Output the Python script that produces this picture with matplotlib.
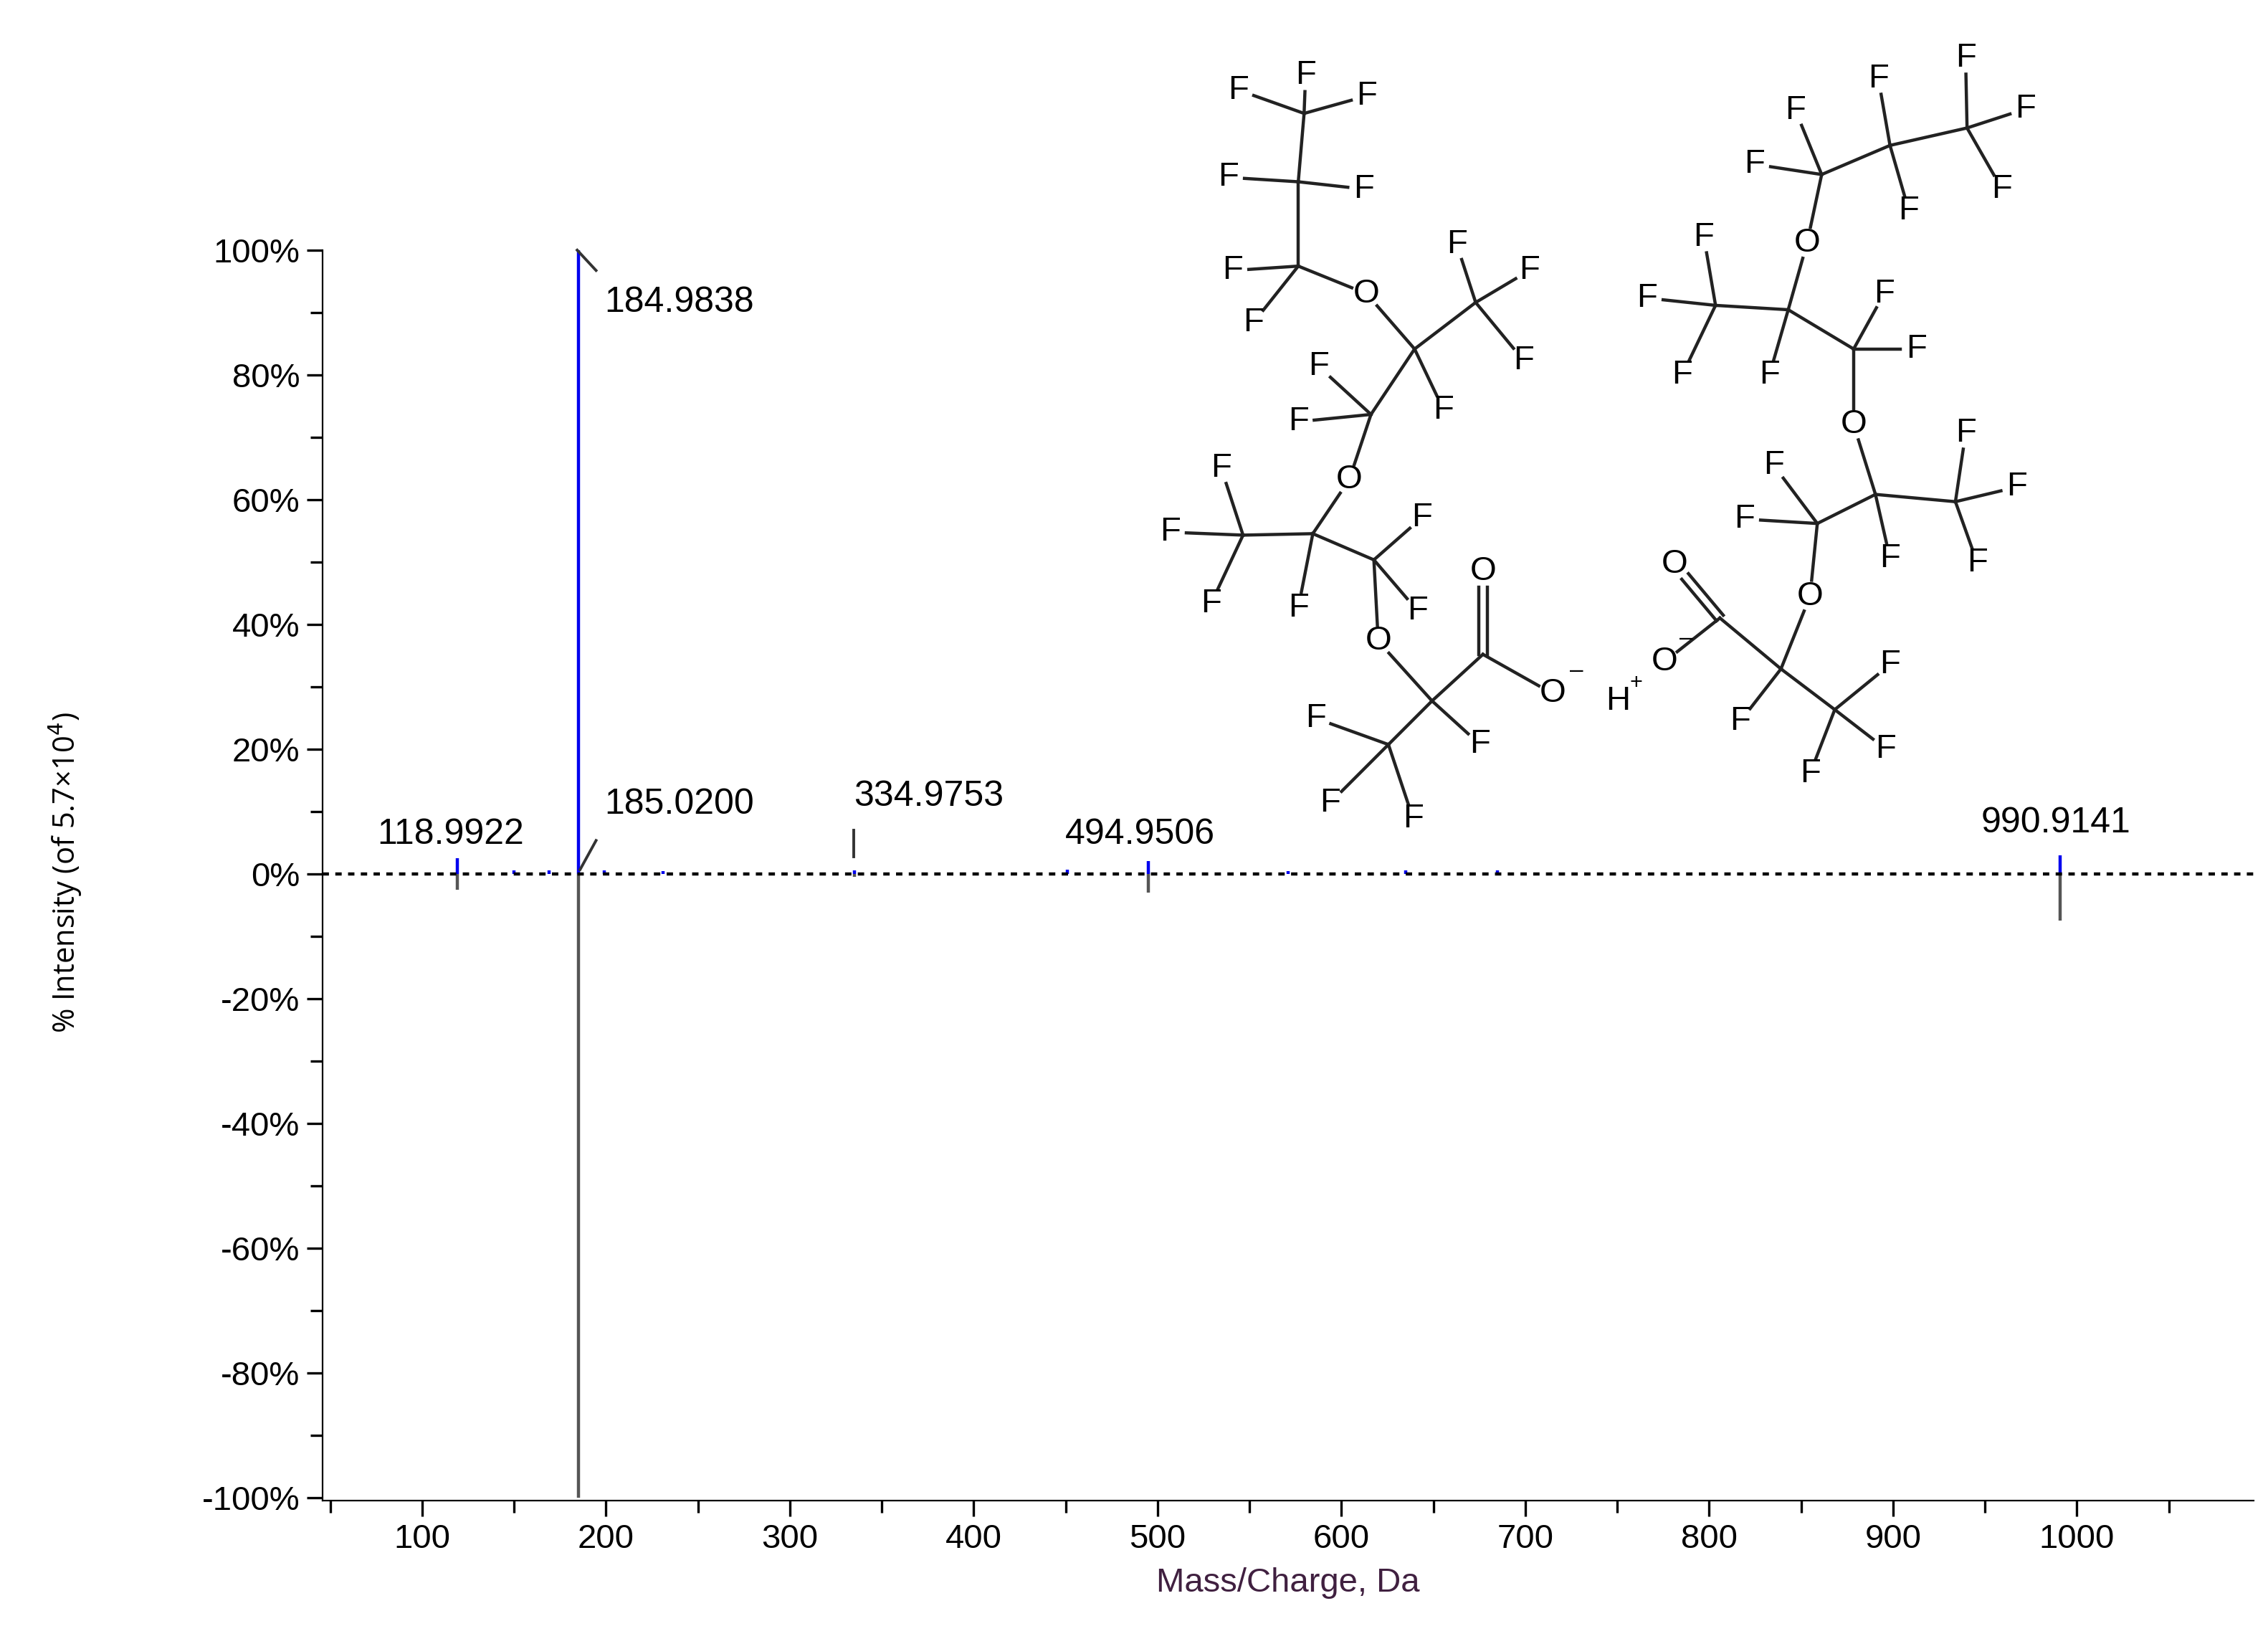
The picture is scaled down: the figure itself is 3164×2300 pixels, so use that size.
import matplotlib.pyplot as plt
import numpy as np

# spectrum data (m/z, % intensity)
top_mz = [118.9922, 150.0, 168.9, 184.9838, 199.0, 230.9, 334.9753, 450.9, 494.9506, 570.9, 634.9, 684.9, 990.9141]
top_int = [2.5, 0.5, 0.6, 100.0, 0.5, 0.4, 0.5, 0.7, 2.0, 0.4, 0.5, 0.5, 3.0]
lib_mz = [118.9922, 184.9838, 334.9753, 494.9506, 990.9141]
lib_int = [-2.5, -100.0, -0.5, -3.0, -7.5]
labels = ['118.9922', '184.9838', '185.0200', '334.9753', '494.9506', '990.9141']
label_mz = [118.9922, 184.9838, 185.02, 334.9753, 494.9506, 990.9141]

W, H = 1560.0, 1134.0
def fx(x): return x / W
def fy(y): return 1 - y / H

fig = plt.figure(figsize=(15.82, 11.5), dpi=200)
fnt = ['Liberation Sans Narrow', 'Liberation Sans', 'DejaVu Sans']
ax = fig.add_axes([fx(222), fy(1032), fx(1550) - fx(222), fy(172) - fy(1032)])
ax.set_xlim(46, 1096)
ax.set_ylim(-100.5, 100)
ax.vlines(lib_mz, 0, lib_int, color='#555555', lw=1.6)
ax.vlines(top_mz, 0, top_int, color='#0000ee', lw=1.6)
ax.axhline(0, color='black', ls=(0, (2, 2)), lw=1.6)
ax.spines['top'].set_visible(False)
ax.spines['right'].set_visible(False)
ax.set_xticks(np.arange(100, 1001, 100))
ax.set_xticks(np.arange(50, 1096, 50), minor=True)
ax.set_yticks(np.arange(-100, 101, 20))
ax.set_yticks(np.arange(-100, 101, 10), minor=True)
ax.set_yticklabels([f'{v}%' for v in range(-100, 101, 20)])
ax.tick_params(length=8, width=1.2, labelsize=17)
ax.tick_params(which='minor', length=6, width=1.2)
for t in ax.get_xticklabels() + ax.get_yticklabels():
    t.set_family(fnt)
ax.set_xlabel('Mass/Charge, Da', fontsize=17, family=fnt, color='#402040', labelpad=6)
fig.text(fx(45), fy(600), '% Intensity (of 5.7×10$^{4}$)', rotation=90, ha='center', va='center',
         fontsize=15, family=['Open Sans', 'DejaVu Sans'])

# peak labels
lab_pos = {'118.9922': (310, 574), '184.9838': (467, 208), '185.0200': (467, 553),
           '334.9753': (639, 548), '494.9506': (784, 574), '990.9141': (1414, 566)}
for lab, mz in zip(labels, label_mz):
    x, y = lab_pos[lab]
    fig.text(fx(x), fy(y), lab, ha='center', va='center', fontsize=18, family=fnt)
fig.add_artist(plt.Line2D([fx(397), fx(410)], [fy(172), fy(186)], color='#333333', lw=1.4))
fig.add_artist(plt.Line2D([fx(399), fx(410)], [fy(598), fy(578)], color='#333333', lw=1.4))
fig.add_artist(plt.Line2D([fx(587), fx(587)], [fy(571), fy(589)], color='#333333', lw=1.4))

# chemical structure
atoms = {
    'a1': (897, 78, ''), 'a2': (893, 125, ''), 'a3': (893, 183, ''), 'o1': (940, 202, 'O'),
    'a4': (973, 240, ''), 'a5': (1015, 208, ''), 'a6': (943, 285, ''), 'o2': (928, 330, 'O'),
    'a7': (903, 367, ''), 'a8': (855, 368, ''), 'a9': (945, 385, ''), 'o3': (948, 441, 'O'),
    'a10': (985, 482, ''), 'a11': (955, 512, ''), 'a12': (1020, 450, ''), 'od1': (1020, 393, 'O'),
    'om1': (1068, 477, 'O'),
    'b13': (1183, 425, ''), 'od2': (1152, 388, 'O'), 'om2': (1145, 455, 'O'), 'b14': (1225, 460, ''),
    'b15': (1262, 488, ''), 'o4': (1245, 410, 'O'), 'b16': (1250, 360, ''), 'b17': (1290, 340, ''),
    'b18': (1345, 345, ''), 'o5': (1275, 292, 'O'), 'b19': (1275, 240, ''), 'b20': (1230, 213, ''),
    'b21': (1180, 210, ''), 'o6': (1243, 167, 'O'), 'b22': (1253, 120, ''), 'b23': (1300, 100, ''),
    'b24': (1353, 88, ''),
}
bonds = [('a1', 'a2'), ('a2', 'a3'), ('a3', 'o1'), ('o1', 'a4'), ('a4', 'a5'), ('a4', 'a6'),
         ('a6', 'o2'), ('o2', 'a7'), ('a7', 'a8'), ('a7', 'a9'), ('a9', 'o3'), ('o3', 'a10'),
         ('a10', 'a11'), ('a10', 'a12'), ('a12', 'om1'),
         ('b13', 'om2'), ('b13', 'b14'), ('b14', 'b15'), ('b14', 'o4'), ('o4', 'b16'),
         ('b16', 'b17'), ('b17', 'b18'), ('b17', 'o5'), ('o5', 'b19'), ('b19', 'b20'),
         ('b20', 'b21'), ('b20', 'o6'), ('o6', 'b22'), ('b22', 'b23'), ('b23', 'b24')]
double_bonds = [('a12', 'od1'), ('b13', 'od2')]
fluorines = {
    'a1': [(898, 52), (852, 62), (940, 66)], 'a2': [(845, 122), (938, 130)],
    'a3': [(848, 186), (862, 222)], 'a5': [(1002, 168), (1052, 186), (1048, 248)],
    'a4': [(993, 282)], 'a6': [(907, 252), (893, 290)],
    'a8': [(840, 322), (805, 366), (833, 415)], 'a7': [(893, 418)],
    'a9': [(978, 356), (975, 420)], 'a10': [(1018, 512)],
    'a11': [(905, 494), (915, 552), (972, 563)],
    'b14': [(1197, 496)], 'b15': [(1300, 457), (1297, 515), (1245, 532)],
    'b16': [(1220, 320), (1200, 357)], 'b17': [(1300, 384)],
    'b18': [(1352, 298), (1387, 335), (1360, 387)],
    'b19': [(1318, 240), (1296, 202)], 'b20': [(1217, 258)],
    'b21': [(1172, 163), (1133, 205), (1157, 258)],
    'b22': [(1235, 76), (1207, 113)], 'b23': [(1292, 54), (1313, 145)],
    'b24': [(1352, 40), (1393, 75), (1377, 130)],
}

def shorten(p, q, lab_p, lab_q, d=11):
    (x1, y1), (x2, y2) = p, q
    L = np.hypot(x2 - x1, y2 - y1)
    ux, uy = (x2 - x1) / L, (y2 - y1) / L
    s1 = d if lab_p else 0
    s2 = d if lab_q else 0
    return (x1 + ux * s1, y1 + uy * s1), (x2 - ux * s2, y2 - uy * s2)

def bond(p, q, lp, lq, off=0.0):
    a, b = shorten(p, q, lp, lq)
    L = np.hypot(b[0] - a[0], b[1] - a[1])
    nx, ny = -(b[1] - a[1]) / L * off, (b[0] - a[0]) / L * off
    fig.add_artist(plt.Line2D([fx(a[0] + nx), fx(b[0] + nx)], [fy(a[1] + ny), fy(b[1] + ny)],
                              color='#222222', lw=1.6))

for k1, k2 in bonds:
    x1, y1, l1 = atoms[k1]
    x2, y2, l2 = atoms[k2]
    bond((x1, y1), (x2, y2), l1, l2)
for k1, k2 in double_bonds:
    x1, y1, l1 = atoms[k1]
    x2, y2, l2 = atoms[k2]
    bond((x1, y1), (x2, y2), l1, l2, off=-3)
    bond((x1, y1), (x2, y2), l1, l2, off=3)
for k, fl in fluorines.items():
    x1, y1, _ = atoms[k]
    for (x2, y2) in fl:
        bond((x1, y1), (x2, y2), '', 'F')
        fig.text(fx(x2), fy(y2), 'F', ha='center', va='center', fontsize=17, family=fnt)
for k, (x, y, l) in atoms.items():
    if l:
        fig.text(fx(x), fy(y), l, ha='center', va='center', fontsize=17, family=fnt)
fig.text(fx(1080), fy(461), '\u2013', ha='left', va='center', fontsize=12, family=fnt)
fig.text(fx(1155), fy(439), '\u2013', ha='left', va='center', fontsize=12, family=fnt)
fig.text(fx(1113), fy(482), 'H', ha='center', va='center', fontsize=17, family=fnt)
fig.text(fx(1121), fy(470), '+', ha='left', va='center', fontsize=11, family=fnt)

fig.savefig('out.png', dpi=200, facecolor='white')
